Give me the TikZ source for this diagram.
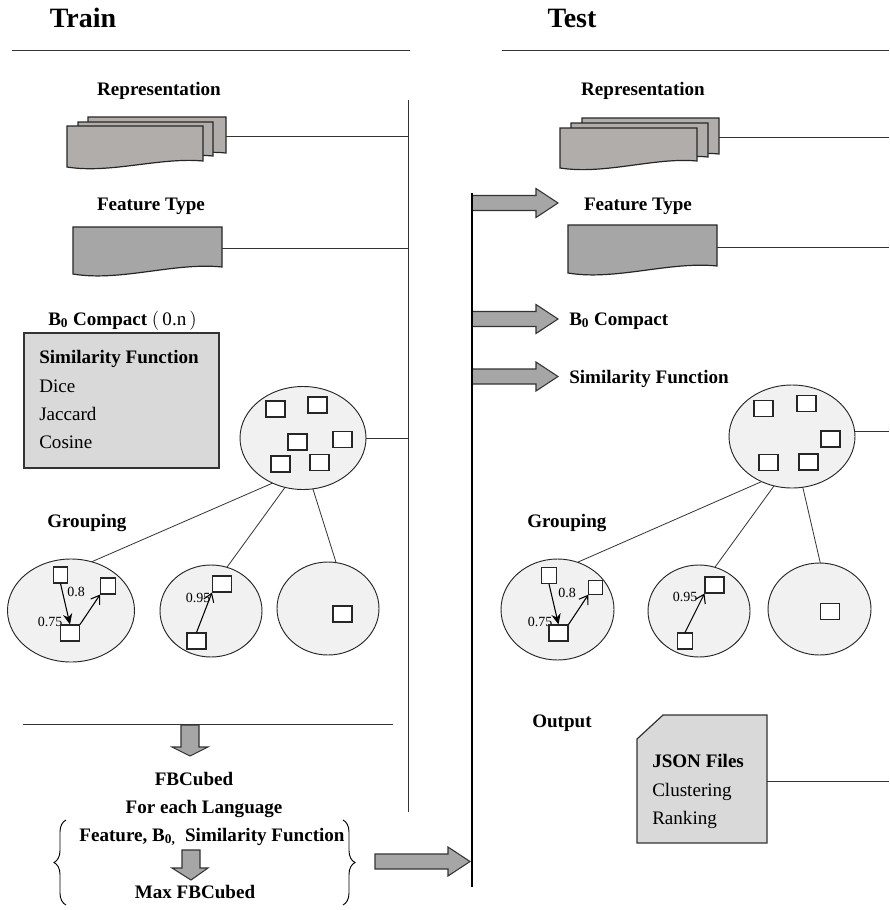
\documentclass[tikz,border=0pt]{standalone}
\usepackage{fontspec}
\setmainfont{Liberation Serif}
\usetikzlibrary{shapes.geometric,arrows.meta,decorations.pathreplacing}
\definecolor{reprgray}{HTML}{B0ADAA}
\definecolor{featgray}{HTML}{A6A6A6}
\definecolor{boxgray}{HTML}{D9D9D9}
\definecolor{blobgray}{HTML}{F1F1F1}

\begin{document}
\begin{tikzpicture}[x=0.75pt, y=-0.75pt,
    ttl/.style={font=\fontsize{21}{24}\selectfont\bfseries, anchor=base, inner sep=0},
    lbl/.style={font=\fontsize{14.3}{16}\selectfont\bfseries, anchor=base, inner sep=0},
    itm/.style={font=\fontsize{14.3}{16}\selectfont, anchor=base west, inner sep=0},
    num/.style={font=\fontsize{10.5}{12}\selectfont, inner sep=0},
    docshape/.style={draw=black!85, line width=0.9pt, fill=#1},
    blob/.style={ellipse, draw=black!85, line width=0.7pt, fill=blobgray, inner sep=0, outer sep=0},
    sq/.style={draw=black!85, line width=0.8pt, fill=white, inner sep=0, minimum width=14.25pt, minimum height=12pt},
    sqs/.style={sq, minimum width=11pt},
    wire/.style={draw=black!80, line width=0.6pt},
    blk/.style={draw=black!80, line width=0.8pt, fill=featgray},
    sim/.style={-{Straight Barb[length=6pt,width=8pt]}, line width=0.8pt},
    simdown/.style={-{Stealth[length=8pt,width=7pt]}, line width=0.8pt},
  ]
  \useasboundingbox (0,0) rectangle (889,910);

  % ---------------- Train ----------------
  \node[ttl] (trTitle) at (83,27) {Train};
  \draw[wire] (12,50) -- (410,50);
  \coordinate (trBusTop) at (408,100);
  \coordinate (trBusBot) at (408,812);
  \draw[wire] (trBusTop) -- (trBusBot);

  % representation (stacked documents)
  \node[lbl] (trReprLbl) at (159,95) {Representation};
  \draw[docshape=reprgray] (88,117) -- (226,117) -- (226,153) .. controls (185,149) and (130,164) .. (88,158) -- cycle;
  \draw[docshape=reprgray] (78,122) -- (213,122) -- (213,156) .. controls (170,152) and (120,168) .. (78,163) -- cycle;
  \draw[docshape=reprgray] (67,126) -- (203,126) -- (203,161) .. controls (160,157) and (110,174) .. (67,167) -- cycle;
  \coordinate (trRepr) at (226,136);
  \draw[wire] (trRepr) -- (trRepr -| trBusTop);

  % feature type
  \node[lbl] (trFeatLbl) at (151,210) {Feature Type};
  \draw[docshape=featgray] (73,227) -- (222,227) -- (222,267) .. controls (175,262) and (120,282) .. (73,274) -- cycle;
  \coordinate (trFeat) at (222,248);
  \draw[wire] (trFeat) -- (trFeat -| trBusTop);

  % B0 compact and similarity box
  \node[lbl, anchor=base west] (trB0) at (48,325) {B\textsubscript{0} Compact \textnormal{$\Bigl($\,0.n\,$\Bigr)$}};
  \draw[draw=black!80, line width=0.9pt, fill=boxgray] (24,333) rectangle (219,468);
  \node[itm, font=\fontsize{14.3}{16}\selectfont\bfseries] (trSimHd) at (39,363) {Similarity Function};
  \node[itm] (trDice) at (39,392) {Dice};
  \node[itm] (trJacc) at (39,420) {Jaccard};
  \node[itm] (trCos) at (39,448) {Cosine};

  % clustering
  \node[blob, minimum width=94.5pt, minimum height=77.25pt] (trClu) at (303,438) {};
  \foreach \px/\py in {275.5/409, 317.5/405, 297.5/442, 342.5/439.5, 280.5/464, 319.5/462.5}
    \node[sq] at (\px,\py) {};
  \draw[wire] (trClu.east) -- (trClu.east -| trBusTop);

  \node[lbl, anchor=base west] (trGrp) at (47,527) {Grouping};
  \node[blob, minimum width=95.25pt, minimum height=77.25pt] (trG1) at (71,610.5) {};
  \node[blob, minimum width=76.5pt, minimum height=69pt] (trG2) at (211,611) {};
  \node[blob, minimum width=76.5pt, minimum height=69.75pt] (trG3) at (328,608.5) {};
  \draw[wire] (trClu.236) -- (trG1.67);
  \draw[wire] (trClu.250) -- (trG2.70);
  \draw[wire] (trClu.281) -- (trG3.80);

  \node[num] (trN08) at (76,592) {0.8};
  \node[num] (trN075) at (50,622) {0.75};
  \node[sqs] (trA) at (60.5,575) {};
  \node[sqs] (trB) at (108,586) {};
  \node[sq] (trC) at (70,633) {};
  \draw[simdown] (trA.south) -- (trC.north);
  \draw[sim] (trC.north east) -- (trB.south west);

  \node[num] (trN095) at (198,598) {0.95};
  \node[sq] (trD) at (222,584) {};
  \node[sq] (trE) at (196.5,641) {};
  \draw[sim] (trE.north) -- (trD.south west);
  \node[sq] (trF) at (342.5,614) {};

  % selection of the best setting
  \draw[wire] (23,724) -- (393,724);
  \draw[blk] (181,725) -- (199,725) -- (199,747) -- (208,747) -- (190,756) -- (172,747) -- (181,747) -- cycle;
  \node[lbl] (trFB) at (194,785) {FBCubed};
  \node[lbl] (trLang) at (204,813) {For each Language};
  \node[lbl] (trComb) at (212,841) {Feature, B\textsubscript{0,}~~Similarity Function};
  \draw[blk] (182,850) -- (200,850) -- (200,868) -- (208,868) -- (191,880) -- (172,868) -- (182,868) -- cycle;
  \node[lbl] (trMax) at (195,898) {Max FBCubed};
  \draw[decorate, decoration={brace, amplitude=9pt}, line width=0.7pt] (66,905) -- (66,820);
  \draw[decorate, decoration={brace, amplitude=9pt}, line width=0.7pt] (343,820) -- (343,905);
  \draw[blk] (375,854) -- (448,854) -- (448,847) -- (470,861.5) -- (448,876) -- (448,869) -- (375,869) -- cycle;

  % ---------------- Test ----------------
  \node[ttl] (teTitle) at (572,27) {Test};
  \draw[wire] (502,50) -- (889,50);
  \coordinate (teEdge) at (889,0);

  \node[lbl] (teReprLbl) at (643,95) {Representation};
  \draw[docshape=reprgray] (582,118) -- (719,118) -- (719,154) .. controls (680,150) and (625,165) .. (582,159) -- cycle;
  \draw[docshape=reprgray] (571,123) -- (708,123) -- (708,157) .. controls (665,153) and (615,169) .. (571,164) -- cycle;
  \draw[docshape=reprgray] (560,128) -- (697,128) -- (697,161) .. controls (655,157) and (605,175) .. (560,168) -- cycle;
  \coordinate (teRepr) at (719,137);
  \draw[wire] (teRepr) -- (teRepr -| teEdge);

  \node[lbl] (teFeatLbl) at (638,210) {Feature Type};
  \draw[docshape=featgray] (568,225) -- (717,225) -- (717,266) .. controls (670,261) and (615,281) .. (568,273) -- cycle;
  \coordinate (teFeat) at (717,247);
  \draw[wire] (teFeat) -- (teFeat -| teEdge);

  % inputs taken from training
  \foreach \yc in {203,319,376.5}
    \draw[blk] (472,\yc-7.5) -- (536,\yc-7.5) -- (536,\yc-14.5) -- (558,\yc) -- (536,\yc+14.5) -- (536,\yc+7.5) -- (472,\yc+7.5) -- cycle;
  \coordinate (teBusTop) at (472,193);
  \coordinate (teBusBot) at (472,887);
  \draw[line width=1.6pt] (teBusTop) -- (teBusBot);
  \node[lbl, anchor=base west] (teB0) at (569,325) {B\textsubscript{0} Compact};
  \node[lbl, anchor=base west] (teSim) at (569,383) {Similarity Function};

  % clustering
  \node[blob, minimum width=94.5pt, minimum height=77.25pt] (teClu) at (792,436.5) {};
  \foreach \px/\py in {763.5/408.5, 806.5/403.5, 830.5/439, 768.5/462.5, 808.5/462}
    \node[sq] at (\px,\py) {};
  \draw[wire] (teClu.5) -- (teClu.5 -| teEdge);

  \node[lbl, anchor=base west] (teGrp) at (527,527) {Grouping};
  \node[blob, minimum width=84.75pt, minimum height=75.75pt] (teG1) at (557.5,609.5) {};
  \node[blob, minimum width=76.5pt, minimum height=69pt] (teG2) at (699,611) {};
  \node[blob, minimum width=77.25pt, minimum height=69pt] (teG3) at (819.5,609) {};
  \draw[wire] (teClu.236) -- (teG1.67);
  \draw[wire] (teClu.250) -- (teG2.70);
  \draw[wire] (teClu.282) -- (teG3.89);

  \node[num] (teN08) at (567,593) {0.8};
  \node[num] (teN075) at (540,622) {0.75};
  \node[sqs] (teA) at (549,575.5) {};
  \node[sqs, minimum width=10pt, minimum height=10pt] (teB) at (595.5,587.5) {};
  \node[sq] (teC) at (558.5,633) {};
  \draw[simdown] (teA.south) -- (teC.north);
  \draw[sim] (teC.north east) -- (teB.south west);

  \node[num] (teN095) at (685,597) {0.95};
  \node[sq] (teD) at (714.5,585) {};
  \node[sqs] (teE) at (685,641) {};
  \draw[sim] (teE.north) -- (teD.south west);
  \node[sq] (teF) at (830,611.5) {};

  % output
  \node[lbl, anchor=base west] (teOutLbl) at (532,727) {Output};
  \draw[draw=black!80, line width=0.9pt, fill=boxgray] (637,739) -- (663,715) -- (767,715) -- (767,843) -- (637,843) -- cycle;
  \node[itm, font=\fontsize{14.3}{16}\selectfont\bfseries] (teJson) at (652,767) {JSON Files};
  \node[itm] (teClus) at (652,796) {Clustering};
  \node[itm] (teRank) at (652,824) {Ranking};
  \coordinate (teOut) at (767,781);
  \draw[wire] (teOut) -- (teOut -| teEdge);
\end{tikzpicture}
\end{document}
